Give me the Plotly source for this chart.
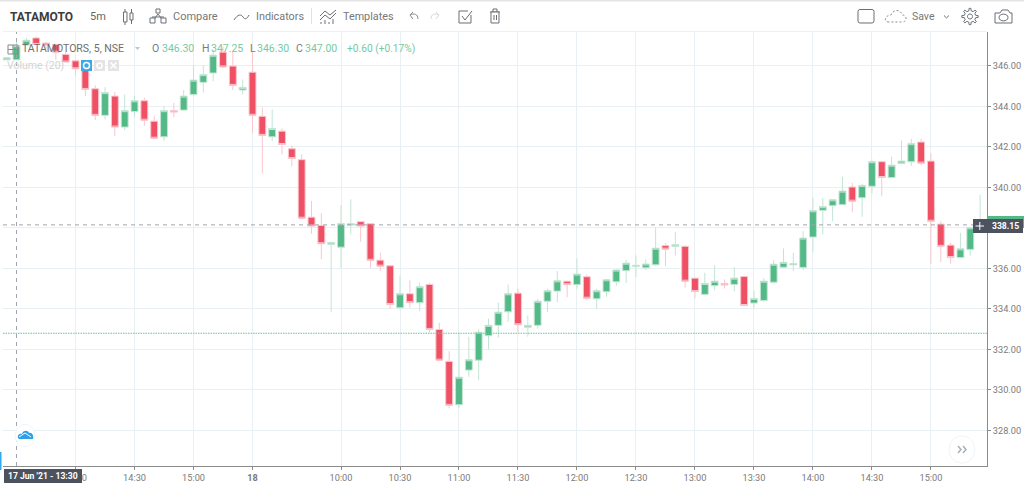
import math
import re
import plotly.graph_objects as go

# ---------- data ----------
bar_index = list(range(100))
opens = [346.30,346.30,347.03,347.38,347.13,347.06,346.57,346.25,345.83,344.87,
         343.56,344.51,342.98,343.75,344.28,343.27,342.50,343.79,343.82,344.59,
         345.19,345.65,346.68,345.99,344.81,345.69,343.51,342.50,342.78,341.91,
         341.37,338.53,338.12,337.20,337.05,338.14,338.31,338.21,336.41,336.13,
         334.06,334.75,334.31,335.21,332.99,331.41,329.27,330.98,331.47,332.68,
         333.19,333.86,334.78,333.10,333.19,334.38,334.88,335.37,335.20,335.59,
         334.50,334.85,335.34,335.89,336.11,336.03,336.18,337.13,337.09,337.09,
         335.52,334.72,335.15,335.26,335.21,335.60,334.29,334.42,335.32,336.06,
         336.18,336.05,337.55,338.87,339.10,339.15,340.02,339.49,340.06,341.27,
         340.49,341.18,341.27,342.24,341.30,338.19,337.15,336.54,336.94,338.00]
highs = [346.45,347.25,347.40,347.45,347.18,347.10,346.72,346.30,345.95,345.04,
         344.95,344.71,344.59,344.54,344.43,343.52,344.00,344.18,344.81,346.03,
         346.03,346.81,346.96,346.73,345.33,346.72,343.95,343.85,342.91,342.07,
         341.63,339.33,338.72,337.27,339.13,339.41,338.34,338.21,336.77,336.13,
         335.65,335.41,335.29,335.29,333.32,331.92,332.83,332.63,333.02,333.53,
         334.31,335.21,335.00,333.68,334.50,335.00,335.87,335.39,336.49,335.70,
         335.00,335.49,335.95,336.41,336.64,336.45,338.01,337.24,337.81,337.15,
         335.55,335.79,336.16,335.46,336.06,335.65,334.91,335.52,336.41,336.99,
         336.77,337.85,339.49,339.49,339.41,340.53,340.23,340.18,341.38,341.29,
         341.52,342.32,342.40,342.40,341.68,338.33,337.27,337.76,338.05,339.64]
lows = [346.30,346.30,347.00,347.05,346.85,346.30,346.15,345.58,344.50,343.32,
        343.36,342.53,342.83,343.49,343.03,342.43,342.29,343.47,343.80,344.51,
        344.69,345.24,345.88,344.81,344.59,342.67,340.69,342.29,341.63,341.05,
        338.45,337.71,336.45,333.83,336.03,337.68,337.32,336.03,335.87,333.98,
        333.98,334.06,333.89,332.85,331.47,329.09,329.09,330.65,330.48,332.00,
        332.58,333.37,332.85,332.63,333.02,333.84,334.34,334.58,335.00,334.42,
        334.00,334.60,335.13,335.29,335.57,335.92,336.11,336.11,336.64,335.06,
        334.52,334.70,334.93,335.01,334.87,334.15,334.06,334.34,335.26,336.03,
        335.87,335.92,336.80,337.68,338.33,339.14,338.79,338.55,339.69,339.57,
        340.47,341.16,341.05,341.09,336.23,336.31,336.23,336.51,336.64,337.98]
closes = [346.40,347.00,347.27,347.06,347.03,346.68,346.19,345.86,344.84,343.56,
          344.68,342.98,343.79,344.28,343.32,342.43,343.79,343.72,344.51,345.30,
          345.57,346.53,345.95,345.04,344.94,343.56,342.57,342.91,342.12,341.43,
          338.48,338.09,337.22,337.27,338.21,338.21,338.09,336.40,336.11,334.22,
          334.75,334.31,335.10,332.99,331.47,329.24,330.63,331.49,332.85,333.19,
          333.84,334.75,333.22,333.19,334.38,334.90,335.39,335.20,335.72,334.53,
          334.90,335.44,335.92,336.26,336.15,336.22,337.00,336.95,337.17,335.37,
          334.86,335.26,335.37,335.18,335.52,334.17,334.52,335.37,336.21,336.30,
          336.23,337.50,338.85,339.05,339.39,339.82,339.32,340.10,341.27,340.49,
          341.10,341.30,342.16,341.20,338.33,337.09,336.54,336.97,338.01,338.15]

tick_bars = [7, 13, 19, 25, 34, 40, 46, 52, 58, 64, 70, 76, 82, 88, 94]
tick_labels = ["14:00", "14:30", "15:00", "<b>18</b>", "10:00", "10:30", "11:00", "11:30",
               "12:00", "12:30", "13:00", "13:30", "14:00", "14:30", "15:00"]
price_ticks = [328, 330, 332, 334, 336, 338, 340, 342, 344, 346]
price_labels = ["328.00", "330.00", "332.00", "334.00", "336.00", "", "340.00", "342.00", "344.00", "346.00"]
crosshair_bar = 1
last_price = 338.15
level_price = 332.80

# ---------- styles ----------
W, H = 1024, 485
GREEN, RED = "#53b987", "#ef5064"
GREEN_PALE, RED_PALE = "#c3e5d4", "#f9c6cd"
GRID = "#e9f0f4"
TXT = "#6f6f6f"
DARK = "#4c525e"
ICON = "#6a6f75"


def X(v):
    return v / W


def Y(v):
    return 1 - v / H


def P(d):
    out, k = [], 0
    for tok in re.findall(r"[A-Za-z]|-?\d+\.?\d*", d):
        if tok.isalpha():
            out.append(tok)
            k = 0
        else:
            out.append(f"{X(float(tok)) if k % 2 == 0 else Y(float(tok)):.5f}")
            k += 1
    return " ".join(out)


fig = go.Figure(go.Candlestick(
    x=bar_index, open=opens, high=highs, low=lows, close=closes,
    increasing=dict(line=dict(color=GREEN_PALE, width=1), fillcolor=GREEN),
    decreasing=dict(line=dict(color=RED_PALE, width=1), fillcolor=RED),
    whiskerwidth=0, hoverinfo="skip", showlegend=False,
))

shapes, notes = [], []


def path(d, color=ICON, width=1, fill=None, dash=None):
    shapes.append(dict(type="path", xref="paper", yref="paper", path=P(d), layer="above",
                       line=dict(color=color, width=width, dash=dash) if width else dict(width=0),
                       fillcolor=fill or "rgba(0,0,0,0)"))


def rect(x0, y0, x1, y1, fill, color=None, width=0):
    path(f"M {x0} {y0} L {x1} {y0} L {x1} {y1} L {x0} {y1} Z", color or fill, width, fill)


def text(x, y, s, size=11, color=TXT, anchor="left", font="Roboto"):
    notes.append(dict(xref="paper", yref="paper", x=X(x), y=Y(y), text=s, showarrow=False,
                      xanchor=anchor, yanchor="middle",
                      font=dict(family=font, size=size, color=color),
                      borderpad=0, borderwidth=0))


# data-anchored reference lines
shapes.append(dict(type="line", xref="x", yref="y", x0=-0.376, x1=99.7, y0=level_price, y1=level_price,
                   layer="above", line=dict(color="#66c79c", width=1.2, dash="1.5px,1px")))
shapes.append(dict(type="line", xref="x", yref="y", x0=-0.376, x1=99.7, y0=last_price, y1=last_price,
                   layer="above", line=dict(color="#a0a4ad", width=1, dash="4px,4px")))
shapes.append(dict(type="line", xref="x", yref="paper", x0=crosshair_bar, x1=crosshair_bar,
                   y0=Y(466), y1=Y(32), layer="above",
                   line=dict(color="#a0a4ad", width=1, dash="4px,4px")))

# toolbar frame
rect(0, 0, W, 1.5, "#e4e4e4")
rect(3, 31, 987, 32, "#eef1f3")
rect(311, 8, 312, 24, "#e2e2e2")

text(10, 17, "<b>TATAMOTO</b>", 12, "#3c3c3c")
text(90, 17, "5m", 11, "#666666")
text(173, 17, "Compare", 11, "#777777")
text(256, 17, "Indicators", 10.8, "#777777")
text(343, 17, "Templates", 10.8, "#777777")
text(912, 17, "Save", 10.5, "#777777")

# toolbar icons
rect(123.5, 12, 127, 22, "#ffffff", ICON, 1)
path("M 125 9 L 125 12 M 125 22 L 125 25", ICON)
rect(130, 13, 133, 20, "#ffffff", ICON, 1)
path("M 131.5 9 L 131.5 13 M 131.5 20 L 131.5 24", ICON)
path("M 152 22 L 158 14 L 164 22 M 152 17 L 164 17", ICON)
rect(150, 18, 155, 23, "#ffffff", ICON, 1)
rect(161, 18, 166, 23, "#ffffff", ICON, 1)
rect(156, 9, 160, 13, "#ffffff", ICON, 1)
path("M 234 20 C 238 14 241 14 243 17 C 245 20 247 19 249 15", ICON)
path("M 320 16 L 325 11 L 330 15 L 336 10 M 320 20 L 325 15 L 330 19 L 336 13", ICON)
path("M 321 24 L 321 22 M 325 24 L 325 20 M 329 24 L 329 22 M 333 24 L 333 19", ICON)
path("M 418 19 C 418 14 414 13 410 15 L 413 12 M 410 15 L 413 19", "#85898e")
path("M 431 19 C 431 14 435 13 439 15 L 436 12 M 439 15 L 436 19", "#d7d9db")
path("M 471 15 L 471 23 L 459 23 L 459 11 L 468 11", ICON)
path("M 462 16 L 465 20 L 472 11", ICON)
path("M 490 12 L 500 12 M 493 12 L 493 9 L 497 9 L 497 12", ICON)
rect(491, 12, 499, 23, "#ffffff", ICON, 1)
path("M 494 15 L 494 20 M 496.5 15 L 496.5 20", ICON)
path("M 860 9.5 L 872 9.5 Q 874 9.5 874 11.5 L 874 21 Q 874 23 872 23 L 860 23 Q 858 23 858 21 L 858 11.5 Q 858 9.5 860 9.5 Z", ICON)
path("M 889 22 C 883 22 885 15 891 15 C 893 9 901 9 902 15 C 907 15 908 22 902 22 Z", "#8a8e92", 1, None, "2px,2px")
path("M 944 15.5 L 946.5 18 L 949 15.5", ICON)
gear = []
for n in range(8):
    for off, rad in [(-0.26, 5.8), (-0.14, 8.2), (0.14, 8.2), (0.26, 5.8)]:
        ang = (n + off) * math.pi / 4
        gear.append(f"{970 + rad * math.cos(ang):.2f} {16.5 + rad * math.sin(ang):.2f}")
path("M " + " L ".join(gear) + " Z", ICON)
path("M 967.5 16.5 C 967.5 13.2 972.5 13.2 972.5 16.5 C 972.5 19.8 967.5 19.8 967.5 16.5 Z", ICON)
path("M 995 13 L 1000 13 L 1002 10 L 1008 10 L 1010 13 L 1012 13 L 1012 23 L 995 23 Z", ICON)
path("M 999 17.5 C 999 13 1008 13 1008 17.5 C 1008 22 999 22 999 17.5 Z", ICON)

# symbol legend
path("M 8 45 L 18 45 L 18 54 L 8 54 Z M 8 49.5 L 18 49.5 M 13 45 L 13 54", "#8a8a8a")
text(22, 49, "TATAMOTORS, 5, NSE", 10.5, "#6e6e6e")
path("M 135 47 L 140 47 L 137.5 50 Z", "#c4c4c4", 0, "#c4c4c4")
LG = "#77c9a4"
for xp, lab, xv, val in [(152, "O", 162, "346.30"), (202, "H", 211, "347.25"),
                         (250, "L", 257, "346.30"), (296, "C", 305, "347.00")]:
    text(xp, 49, lab, 10.5, "#7a7a7a")
    text(xv, 49, val, 10.5, LG)
text(347, 49, "+0.60 (+0.17%)", 10.2, LG)
text(7, 66, "Volume (20)", 10.5, "#d4d4d4")
rect(81, 60, 92, 71, "#39a9ea")
path("M 83.5 65.5 C 83.5 61.5 89.5 61.5 89.5 65.5 C 89.5 69.5 83.5 69.5 83.5 65.5 Z", "#ffffff", 1.5)
rect(94, 60, 105, 71, "#e4e4e4")
path("M 97 65.5 C 97 62 102 62 102 65.5 C 102 69 97 69 97 65.5 Z", "#ffffff", 1.5)
rect(108, 60, 119, 71, "#e4e4e4")
path("M 110.5 62.5 L 116.5 68.5 M 116.5 62.5 L 110.5 68.5", "#ffffff", 1.5)

# bottom-left mark and time tooltip
path("M 25 424.5 C 38 424.5 38 446.5 25 446.5 C 12 446.5 12 424.5 25 424.5 Z", "#f2f5f7", 1, "#ffffff")
path("M 18 438 C 17 435 20 433 22 434 C 23 430 28 430 29 433 C 32 432 34 436 33 439 L 19 439 Z", "#2f9fe8", 0, "#2f9fe8")
path("M 19 437 L 25 433 L 31 437", "#ffffff", 1)
rect(0, 452, 1.5, 470, "#2fa9f0")
rect(4, 469, 82, 483, DARK)
text(43, 476, "<b>17 Jun '21 - 13:30</b>", 8.6, "#ffffff", "center")

# last price tag and crosshair tag
rect(987.5, 216, 1024, 228, GREEN)
rect(973, 219, 1023, 233, DARK)
path("M 975.5 226 L 984 226 M 979.8 222 L 979.8 230", "#ffffff", 1)
text(1005.5, 226, "<b>338.15</b>", 8.6, "#ffffff", "center")

# scroll button
path("M 962 436 C 979 436 979 463 962 463 C 945 463 945 436 962 436 Z", "#f1f3f5", 1, "#ffffff")
path("M 958 446 L 961 449.5 L 958 453 M 963 446 L 966 449.5 L 963 453", "#a8b0b8", 1.5)

fig.update_layout(
    width=W, height=H, autosize=False,
    margin=dict(l=0, r=0, t=0, b=0, pad=0),
    paper_bgcolor="#ffffff", plot_bgcolor="#ffffff",
    boxgap=0.3, boxgroupgap=0, showlegend=False, hovermode=False, dragmode=False,
    font=dict(family="Roboto", size=9, color=TXT),
    xaxis=dict(domain=[X(3), X(987)], range=[-0.376, 99.7], rangeslider=dict(visible=False),
               tickmode="array", tickvals=tick_bars, ticktext=tick_labels,
               showgrid=True, gridcolor=GRID, gridwidth=1, zeroline=False,
               showline=True, linecolor="#8c8c8c", linewidth=1,
               ticks="outside", ticklen=3, tickcolor="#8c8c8c",
               tickfont=dict(family="Roboto", size=9.2, color="#7a7a7a"), anchor="y"),
    yaxis=dict(domain=[Y(466), Y(32)], range=[326.245, 347.675], side="right",
               tickmode="array", tickvals=price_ticks, ticktext=price_labels,
               showgrid=True, gridcolor=GRID, gridwidth=1, zeroline=False,
               showline=True, linecolor="#8c8c8c", linewidth=1,
               ticks="outside", ticklen=3, tickcolor="#8c8c8c",
               tickfont=dict(family="Roboto", size=9.2, color="#7a7a7a"), anchor="x"),
    shapes=shapes, annotations=notes,
)

fig.write_html("out.html", config=dict(displayModeBar=False, responsive=False),
               post_script="document.body.style.margin='0';document.body.style.overflow='hidden';")
